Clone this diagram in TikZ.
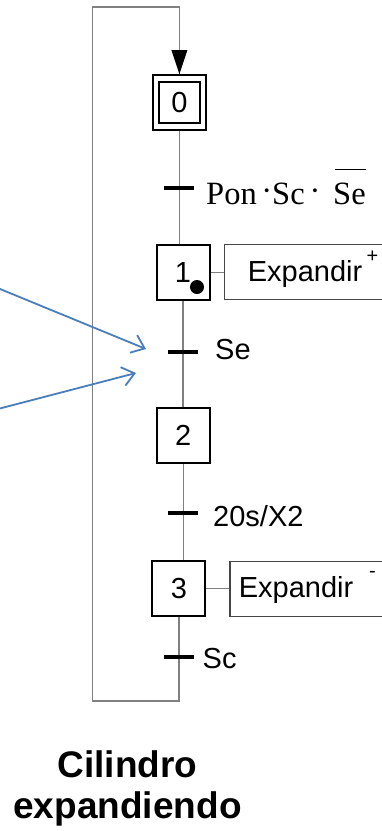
\documentclass[tikz,border=0pt]{standalone}
\usepackage{fontspec}
\setmainfont{Liberation Sans}
\newfontfamily\serifface{Liberation Serif}
\usetikzlibrary{arrows.meta,backgrounds}

\definecolor{wiregray}{RGB}{128,128,128}
\definecolor{boxgray}{RGB}{70,70,70}
\definecolor{pointerblue}{RGB}{74,126,187}

\begin{document}
\begin{tikzpicture}[x=1pt,y=-1pt,
  wire/.style={draw=wiregray,line width=1.6pt},
  stepbox/.style={draw=black,line width=2pt,minimum width=53pt,minimum height=54.5pt,
    inner sep=0pt,font=\fontsize{29}{29}\selectfont},
  innerbox/.style={draw=black,line width=2pt,minimum width=41pt,minimum height=41pt,
    inner sep=0pt,font=\fontsize{29}{29}\selectfont},
  actionbox/.style={draw=boxgray,line width=1.3pt,minimum width=175pt,minimum height=55pt,
    inner sep=0pt,anchor=west},
  bar/.style={fill=black,minimum width=30pt,minimum height=4pt,inner sep=0pt},
  sanslabel/.style={inner sep=0pt,font=\fontsize{29}{29}\selectfont},
  serlabel/.style={inner sep=0pt,font=\serifface\fontsize{32.5}{32.5}\selectfont,anchor=base west},
  suplabel/.style={inner sep=0pt,font=\fontsize{20}{20}\selectfont,anchor=base},
  titlelabel/.style={inner sep=0pt,font=\bfseries\fontsize{37}{37}\selectfont,anchor=base},
  pointer/.style={draw=pointerblue,line width=1.8pt,
    -{Straight Barb[length=12pt,width=19pt,line width=1.8pt]}}]

\useasboundingbox (0,0) rectangle (382,831);
\clip (0,0) rectangle (382,831);

% steps
\node[stepbox] (s0) at (179.4,102.3) {};
\node[innerbox] (s0i) at (179.4,102.3) {0};
\node[stepbox] (s1) at (183,272.3) {1};
\node[stepbox] (s2) at (183.3,435.5) {2};
\node[stepbox] (s3) at (178.9,588.3) {3};
\fill (197,287) circle (7pt);

% transitions
\node[bar] (t1) at (179.4,188) {};
\node[bar] (t2) at (183,352) {};
\node[bar] (t3) at (182.5,513) {};
\node[bar] (t4) at (178.5,657) {};

% receptivities
\node[serlabel] (r1a) at (206,204) {Pon};
\node[serlabel,anchor=base] (r1d) at (266.7,201) {·};
\node[serlabel] (r1b) at (272,204) {Sc};
\node[serlabel,anchor=base] (r1e) at (315,201) {·};
\node[serlabel] (r1c) at (333,204) {Se};
\node[sanslabel,anchor=base west] (r2) at (215,359) {Se};
\node[sanslabel,anchor=base west] (r3) at (213,526) {20s/X2};
\node[sanslabel,anchor=base west] (r4) at (202.5,668.3) {Sc};

% actions
\node[actionbox] (a1) at (223.5,272.3) {};
\node[sanslabel,anchor=base west] (e1) at (247.7,281.7) {Expandir};
\node[suplabel] (p1) at (372.5,262) {+};
\node[actionbox] (a3) at (229.3,588.8) {};
\node[sanslabel,anchor=base west] (e3) at (238.7,597.3) {Expandir};
\node[suplabel] (p3) at (372.5,577) {-};

% loop corners
\coordinate (lb) at (92.3,701);
\coordinate (lt) at (92.3,7);

\begin{scope}[on background layer]
  \draw[wire] (s0.south) -- (s0.south |- s1.north);
  \draw[wire] (s1.south) -- (s1.south |- s2.north);
  \draw[wire] (s2.south) -- (s2.south |- s3.north);
  \draw[wire] (s3.south) |- (lb) -- (lt) -| (s0.north);
  \draw[wire,line width=1.3pt] (s1.east) -- (a1.west);
  \draw[wire,line width=1.3pt] (s3.east) -- (s3.east -| a3.west);
\end{scope}

% arrowhead of the loop
\draw[line width=0pt,-{Triangle[length=24pt,width=16pt,color=black,fill=black]}]
  ([yshift=24pt]s0.north) -- (s0.north);

% overline of the negated sensor
\draw[black,line width=1.4pt] ([xshift=1.5pt,yshift=13pt]r1c.north west) -- ([xshift=0.5pt,yshift=13pt]r1c.north east);

% pointers
\coordinate (q1a) at (-6,286.5);
\coordinate (q1b) at (146,349);
\coordinate (q2a) at (-6,410);
\coordinate (q2b) at (136,373);
\draw[pointer] (q1a) -- (q1b);
\draw[pointer] (q2a) -- (q2b);

% caption
\node[titlelabel] (c1) at (127.5,777) {Cilindro};
\node[titlelabel] (c2) at (127.5,818) {expandiendo};
\end{tikzpicture}
\end{document}
